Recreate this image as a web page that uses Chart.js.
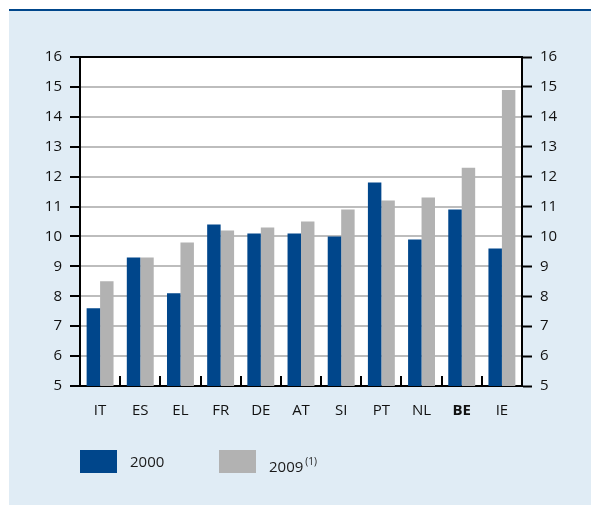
<!DOCTYPE html>
<html>
<head>
<meta charset="utf-8">
<script src="https://cdn.jsdelivr.net/npm/chart.js"></script>
<style>
    body { margin: 0; background: #fff; font-family: "Open Sans", sans-serif; }
    .panel {
        position: absolute; left: 9px; top: 9px; width: 582px; height: 494px;
        background: #e0ecf5; border-top: 2px solid #00468b;
    }
    #grafico { position: absolute; left: 0; top: 0; }
    .leyenda { position: absolute; top: 450px; left: 0; font-size: 15px; color: #1a1a1a; }
    .leyenda .caja { position: absolute; top: 0; width: 37px; height: 23px; }
    .leyenda .texto { position: absolute; top: 0; line-height: 23px; white-space: nowrap; }
    .leyenda sup { font-size: 10px; vertical-align: 7px; margin-left: 2px; }
</style>
</head>
<body>
<div class="panel"></div>
<canvas id="grafico" width="591" height="505"></canvas>
<div class="leyenda" id="leyenda"></div>

<script>
// Datos del gráfico
const paises = ['IT', 'ES', 'EL', 'FR', 'DE', 'AT', 'SI', 'PT', 'NL', 'BE', 'IE'];
const valores2000 = [7.6, 9.3, 8.1, 10.4, 10.1, 10.1, 10.0, 11.8, 9.9, 10.9, 9.6];
const valores2009 = [8.5, 9.3, 9.8, 10.2, 10.3, 10.5, 10.9, 11.2, 11.3, 12.3, 14.9];
const etiquetasSerie = ['2000', '2009'];
const notasSerie = ['', '(1)'];
const ejeMin = 5;
const ejeMax = 16;
const paisDestacado = 'BE';

const AZUL = '#00468b';
const GRIS = '#b2b2b2';

// Fondo blanco del área y borde superior
const fondoArea = {
    id: 'fondoArea',
    beforeDraw(chart) {
        const { ctx, chartArea: a } = chart;
        ctx.save();
        ctx.fillStyle = '#fff';
        ctx.fillRect(a.left, a.top, a.right - a.left, a.bottom - a.top);
        ctx.restore();
    },
    afterDraw(chart) {
        const { ctx, chartArea: a } = chart;
        ctx.save();
        ctx.strokeStyle = '#000';
        ctx.lineWidth = 2;
        ctx.beginPath();
        ctx.moveTo(a.left - 1, a.top);
        ctx.lineTo(a.right + 1, a.top);
        ctx.stroke();
        ctx.restore();
    }
};

// Marcas entre categorías, hacia arriba desde el eje
const marcasCategorias = {
    id: 'marcasCategorias',
    afterDatasetsDraw(chart) {
        const { ctx, chartArea: a, scales: { x } } = chart;
        ctx.save();
        ctx.strokeStyle = '#000';
        ctx.lineWidth = 2;
        for (let i = 1; i < paises.length; i++) {
            const px = Math.round((x.getPixelForValue(i - 1) + x.getPixelForValue(i)) / 2);
            ctx.beginPath();
            ctx.moveTo(px, a.bottom);
            ctx.lineTo(px, a.bottom - 10);
            ctx.stroke();
        }
        ctx.restore();
    }
};

const fuenteTicks = { family: '"Open Sans", sans-serif', size: 15 };

new Chart(document.getElementById('grafico'), {
    type: 'bar',
    data: {
        labels: paises,
        datasets: [
            { label: etiquetasSerie[0], data: valores2000, backgroundColor: AZUL },
            { label: etiquetasSerie[1], data: valores2009, backgroundColor: GRIS }
        ]
    },
    options: {
        responsive: false,
        devicePixelRatio: 1,
        animation: false,
        layout: { padding: { top: 57, left: 0, right: 0, bottom: 0 } },
        datasets: { bar: { categoryPercentage: 0.67, barPercentage: 1.0 } },
        plugins: { legend: { display: false }, tooltip: { enabled: false } },
        scales: {
            x: {
                grid: { display: false },
                border: { color: '#000', width: 2 },
                ticks: {
                    color: '#111',
                    padding: 8,
                    font: c => ({
                        ...fuenteTicks,
                        weight: paises[c.index] === paisDestacado ? 'bold' : 'normal'
                    })
                },
                afterFit: s => { s.height = 119; }
            },
            y: {
                position: 'left',
                min: ejeMin,
                max: ejeMax,
                ticks: { stepSize: 1, color: '#111', padding: 8, font: fuenteTicks },
                grid: { color: '#bdbdbd', lineWidth: 2, tickColor: '#000', tickWidth: 2, tickLength: 10 },
                border: { color: '#000', width: 2 },
                afterFit: s => { s.width = 80; }
            },
            y2: {
                position: 'right',
                min: ejeMin,
                max: ejeMax,
                ticks: { stepSize: 1, color: '#111', padding: 8, font: fuenteTicks },
                grid: { drawOnChartArea: false, tickColor: '#000', tickWidth: 2, tickLength: 10 },
                border: { color: '#000', width: 2 },
                afterFit: s => { s.width = 69; }
            }
        }
    },
    plugins: [fondoArea, marcasCategorias]
});

// Leyenda en HTML
const leyenda = document.getElementById('leyenda');
const posCajas = [80, 219];
const colores = [AZUL, GRIS];
etiquetasSerie.forEach((txt, i) => {
    const caja = document.createElement('div');
    caja.className = 'caja';
    caja.style.left = posCajas[i] + 'px';
    caja.style.background = colores[i];
    leyenda.appendChild(caja);

    const texto = document.createElement('div');
    texto.className = 'texto';
    texto.style.left = (posCajas[i] + 50) + 'px';
    texto.textContent = txt;
    if (notasSerie[i]) {
        const sup = document.createElement('sup');
        sup.textContent = notasSerie[i];
        texto.appendChild(sup);
    }
    leyenda.appendChild(texto);
});
</script>
</body>
</html>
